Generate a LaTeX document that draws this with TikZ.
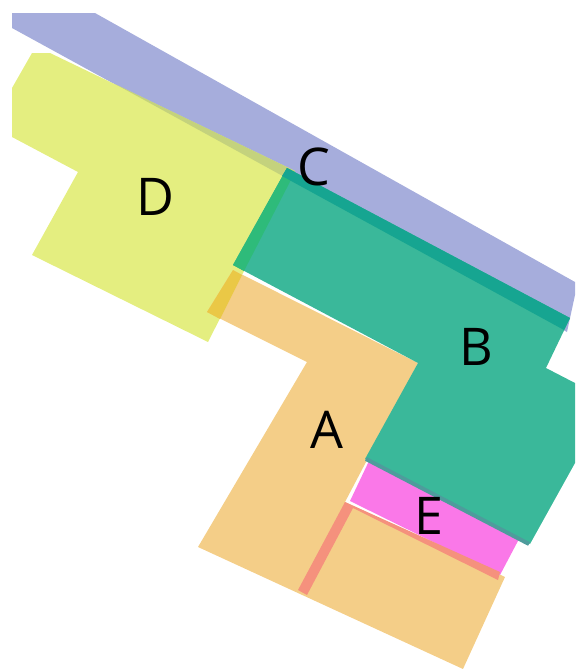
\documentclass[tikz,border=0pt]{standalone}
\usepackage{fontspec}
\setmainfont{Open Sans}
\usepackage{xcolor}

\definecolor{roomA}{HTML}{F4CE88}
\definecolor{roomB}{HTML}{3AB89A}
\definecolor{roomC}{HTML}{A6ADDC}
\definecolor{roomD}{HTML}{E4EE80}
\definecolor{roomE}{HTML}{FA78E8}
\definecolor{overCD}{HTML}{C4D27D}
\definecolor{overBC}{HTML}{16A591}
\definecolor{overBD}{HTML}{2EBB7A}
\definecolor{overAD}{HTML}{EAC846}
\definecolor{overAE}{HTML}{F5917D}
\definecolor{edgeBE}{HTML}{4E9C9C}

\begin{document}
\begin{tikzpicture}[x=0.5pt, y=-0.5pt,
    roomlabel/.style={font=\fontsize{26}{30}\selectfont, inner sep=0pt}]
        \useasboundingbox (0,0) rectangle (575,669);

        % rooms
        \fill[roomC] (12,13) -- (95,13) -- (575,282) -- (575,295) -- (567,332) -- (12,28) -- cycle;
        \fill[roomD] (32,53) -- (50,53) -- (295,171) -- (208,342) -- (32,255) -- (78,172) -- (12,137) -- (12,88) -- cycle;
        \fill[overCD] (115,84) -- (295,171) -- (290,180) -- cycle;
        \fill[roomA] (233,270) -- (418,363) -- (345,502) -- (505,577) -- (463,669) -- (198,547) -- (307,362) -- (207,312) -- cycle;
        \fill[overAD] (233,270) -- (242,275) -- (220,319) -- (207,312) -- cycle;
        \fill[roomE] (369,461) -- (519,539) -- (500,575) -- (350,501) -- cycle;
        \fill[roomB] (287,168) -- (570,318) -- (546,368) -- (575,383) -- (575,463) -- (530,544) -- (365,459) -- (418,363) -- (233,265) -- cycle;
        \fill[overBD] (287,168) -- (295,172) -- (244,271) -- (233,265) -- cycle;
        \fill[overBC] (287,168) -- (570,318) -- (564,330) -- (282,176) -- cycle;
        \draw[edgeBE, line width=2] (366,459) -- (529,544);
        \fill[overAE] (345,502) -- (500,572) -- (498,580) -- (353,508) -- (307,595) -- (298,590) -- cycle;

        % labels
        \node[roomlabel] (lblA) at (327,430) {A};
        \node[roomlabel] (lblB) at (476,347) {B};
        \node[roomlabel] (lblC) at (314,167) {C};
        \node[roomlabel] (lblD) at (155,197) {D};
        \node[roomlabel] (lblE) at (429,516) {E};
    \end{tikzpicture}
\end{document}
